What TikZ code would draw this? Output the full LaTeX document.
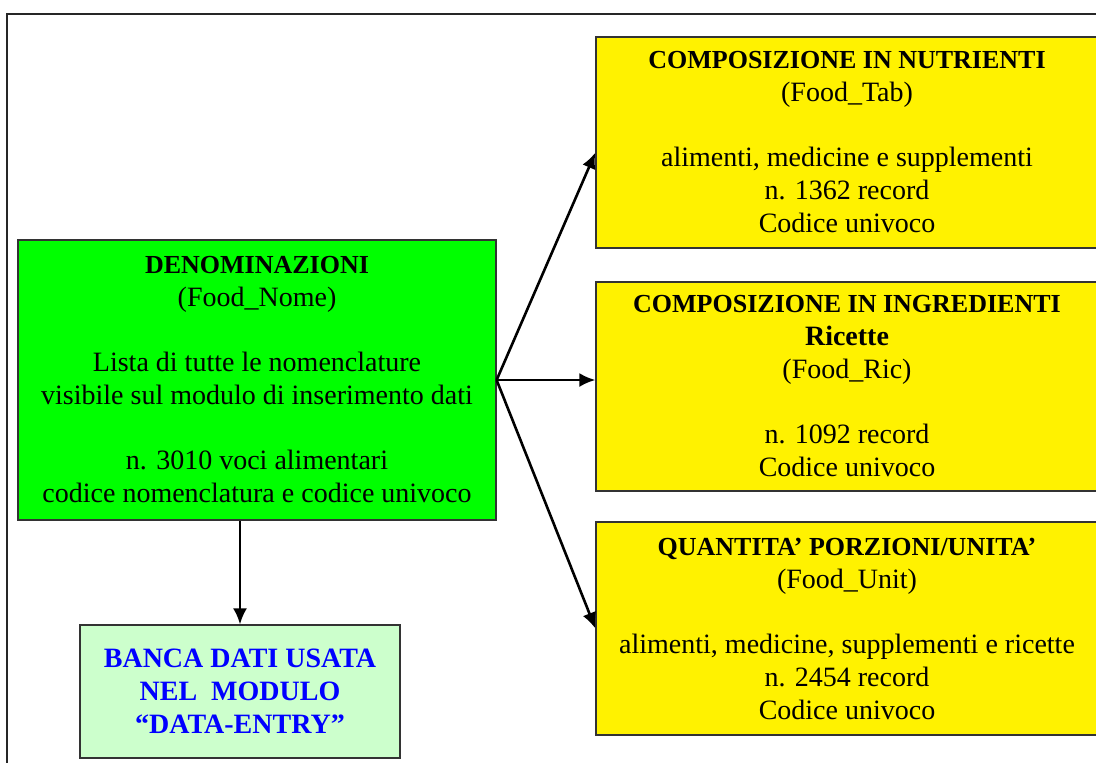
\documentclass[tikz,border=0pt]{standalone}
\usepackage{fontspec}
\setmainfont{Liberation Serif}
\usetikzlibrary{arrows.meta}
\definecolor{palegreen}{RGB}{204,255,204}
\newcommand{\ttl}[1]{{\fontsize{13}{16.5}\selectfont\bfseries #1}}
\tikzset{
  box/.style={draw=black!80, line width=0.6pt, align=center, inner sep=0pt,
    font=\fontsize{14}{16.5}\selectfont},
  tab/.style={box, fill=yellow, minimum width=251pt},
  arr/.style={-{Latex[length=8pt,width=7pt]}, line width=1.3pt}
}
\begin{document}
\begin{tikzpicture}[x=0.5pt,y=-0.5pt]
\useasboundingbox (0,0) rectangle (1096,762);
\clip (0,0) rectangle (1096,762);
% frame:
\draw[line width=1pt, black!85] (7,14) rectangle (1130,790);
% left boxes:
\node[box, fill=green, minimum width=239pt, minimum height=140pt] (den) at (257,380)
  {\ttl{DENOMINAZIONI}\\(Food\_Nome)\\[16pt]Lista di tutte le nomenclature\\visibile sul modulo di inserimento dati\\[16pt]n. 3010 voci alimentari\\codice nomenclatura e codice univoco};
\node[box, fill=palegreen, text=blue, font=\fontsize{14}{16.5}\selectfont\bfseries,
  minimum width=160pt, minimum height=66.5pt] (dat) at (240,691.5)
  {BANCA DATI USATA\\NEL\ \ MODULO\\“DATA-ENTRY”};
% right boxes:
\node[tab, minimum height=105.5pt] (nut) at (847,142.5)
  {\ttl{COMPOSIZIONE IN NUTRIENTI}\\(Food\_Tab)\\[16pt]alimenti, medicine e supplementi\\n. 1362 record\\Codice univoco};
\node[tab, minimum height=104.5pt] (ing) at (847,386.5)
  {\ttl{COMPOSIZIONE IN INGREDIENTI}\\\textbf{Ricette}\\(Food\_Ric)\\[16pt]n. 1092 record\\Codice univoco};
\node[tab, minimum height=106.5pt] (qta) at (847,628.5)
  {\ttl{QUANTITA’ PORZIONI/UNITA’}\\(Food\_Unit)\\[16pt]alimenti, medicine, supplementi e ricette\\n. 2454 record\\Codice univoco};
% arrows:
\draw[arr] (den.east) -- ([yshift=-5pt]nut.west);
\draw[arr] (den.east) -- (den.east -| ing.west);
\draw[arr] (den.east) -- (qta.west);
\draw[arr] (dat.north |- den.south) -- (dat.north);
\end{tikzpicture}
\end{document}
